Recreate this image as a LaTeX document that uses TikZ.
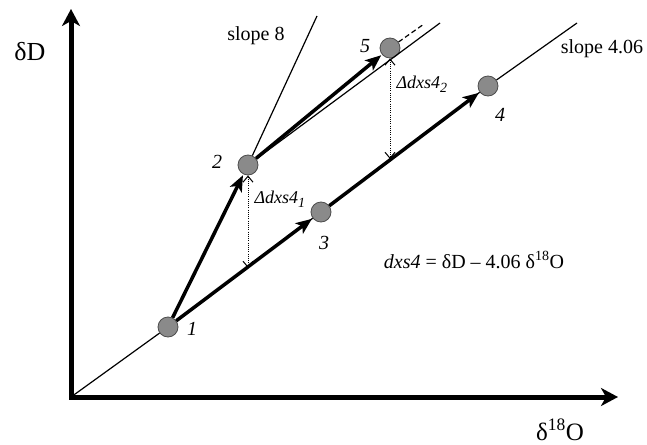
\documentclass[tikz,border=0pt]{standalone}
\usepackage{fontspec}
\setmainfont{Liberation Serif}
\usetikzlibrary{arrows.meta}
\definecolor{DotGray}{HTML}{8A8A8A}
\newcommand{\lowidx}[1]{\raisebox{-4pt}{\fontsize{14}{16}\selectfont #1}}

\begin{document}
\begin{tikzpicture}[x=1pt, y=-1pt,
        dot/.style={circle, draw=black!70, fill=DotGray, line width=0.8pt, minimum size=20pt, inner sep=0pt},
        num/.style={font=\fontsize{20}{24}\selectfont\itshape},
        txt/.style={font=\fontsize{20}{24}\selectfont, anchor=base},
        axis/.style={line width=5pt, {Stealth[length=17pt,width=18pt,inset=5pt]}-{Stealth[length=17pt,width=18pt,inset=5pt]}},
        move/.style={line width=3.5pt, -{Stealth[length=16pt,width=13pt,inset=4pt]}, shorten >=1pt},
        ref/.style={line width=1.2pt},
        gap/.style={line width=1pt, dash pattern=on 1pt off 1.2pt, {Straight Barb[length=6pt,width=10pt]}-{Straight Barb[length=6pt,width=10pt]}}]
        \useasboundingbox (0,0) rectangle (647,444);
        % axes
        \coordinate (o) at (71,397);
        \coordinate (xe) at (618,397);
        \coordinate (ye) at (71,9);
        \draw[axis] (ye) -- (o) -- (xe);
        \node[txt, font=\fontsize{26}{30}\selectfont] (dD) at (30,60) {δD};
        \node[txt, font=\fontsize{25}{30}\selectfont] (d18) at (560,440) {δ\textsuperscript{18}O};
        % points
        \node[dot] (p1) at (168,327) {};
        \node[dot] (p2) at (248,165) {};
        \node[dot] (p3) at (321,212) {};
        \node[dot] (p4) at (488,86) {};
        \node[dot] (p5) at (390,48) {};
        \node[num] (n1) at (192,329) {1};
        \node[num] (n2) at (217,162) {2};
        \node[num] (n3) at (324,243) {3};
        \node[num] (n4) at (500,115) {4};
        \node[num] (n5) at (365,46) {5};
        % reference lines
        \coordinate (e4) at (577,23);
        \coordinate (e8) at (317,16);
        \coordinate (t5) at (440,23);
        \coordinate (d5) at (424,24);
        \draw[ref] (o) -- (p1); \draw[ref] (p1) -- (p3);
        \draw[ref] (p3) -- (p4); \draw[ref] (p4) -- (e4);
        \draw[ref] (p2) -- (e8);
        \draw[ref] (p2) -- (t5);
        \draw[ref, dash pattern=on 5pt off 3pt] (p5) -- (d5);
        \node[txt] (s8) at (256,41) {slope 8};
        \node[txt] (s4) at (602,53) {slope 4.06};
        % moves
        \draw[move] (p1) -- (p2);
        \draw[move] (p1) -- (p3);
        \draw[move] (p3) -- (p4);
        \draw[move] (p2) -- (p5);
        % excess differences
        \coordinate (g1) at (248,268);
        \coordinate (g2) at (390,159);
        \draw[gap] (p2) -- (g1);
        \draw[gap] (p5) -- (g2);
        \node[anchor=base west, font=\fontsize{18}{22}\selectfont\itshape] (dx1) at (251,203) {Δdxs4\lowidx{1}};
        \node[anchor=base west, font=\fontsize{18}{22}\selectfont\itshape] (dx2) at (393,88) {Δdxs4\lowidx{2}};
        \node[txt] (eq) at (474,268) {\textit{dxs4} = δD – 4.06 δ\textsuperscript{18}O};
    \end{tikzpicture}
\end{document}
